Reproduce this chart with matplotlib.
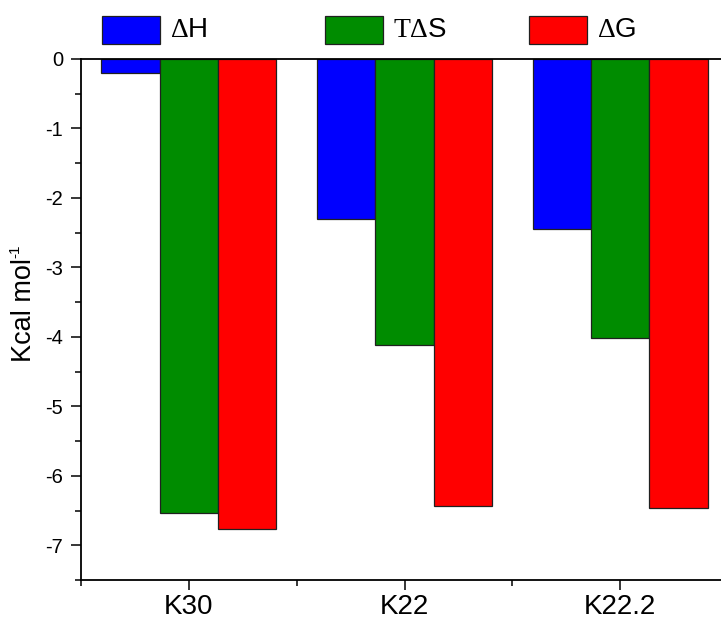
import matplotlib
matplotlib.use("Agg")
from matplotlib import pyplot as plt
from matplotlib.patches import Rectangle
from matplotlib.ticker import MultipleLocator, FixedLocator
import numpy as np

plt.rcParams['font.family'] = ['Liberation Sans', 'DejaVu Sans']
plt.rcParams['axes.unicode_minus'] = False
plt.rcParams['mathtext.fontset'] = 'custom'
plt.rcParams['mathtext.rm'] = 'Liberation Serif'

samples = ['K30', 'K22', 'K22.2']
dH = [-0.20, -2.31, -2.45]
TdS = [-6.54, -4.11, -4.01]
dG = [-6.76, -6.44, -6.47]
labels = [r'$\mathrm{\Delta}$H', r'$\mathrm{T\Delta}$S', r'$\mathrm{\Delta}$G']
colors = ['#0000ff', '#008c00', '#ff0000']

W, H = 721, 623
fig = plt.figure(figsize=(W / 100, H / 100), dpi=100)
ax = fig.add_axes([81 / W, 1 - 580 / H, (728 - 81) / W, (580 - 59) / H])

x = np.arange(len(samples))
bw = 0.27
for i, (vals, c) in enumerate(zip([dH, TdS, dG], colors)):
    ax.bar(x + (i - 1) * bw, vals, bw, color=c, edgecolor='#202020', linewidth=0.9)

ax.set_xlim(-0.5, 2.5)
ax.set_ylim(-7.5, 0)
ax.set_xticks(x)
ax.set_xticklabels(samples, fontsize=20)
ax.xaxis.set_minor_locator(FixedLocator([-0.5, 0.5, 1.5, 2.5]))
ax.yaxis.set_minor_locator(MultipleLocator(0.5))
ax.set_yticks(np.arange(-7, 1, 1))
ax.tick_params(which='major', direction='out', length=7, width=1.1, labelsize=14.5, pad=6)
ax.tick_params(which='minor', direction='out', length=4, width=1.1)
ax.tick_params(axis='x', labelsize=20, pad=3)
ax.tick_params(top=False, right=False, which='both')
ax.spines['right'].set_visible(False)
for s in ['left', 'bottom', 'top']:
    ax.spines[s].set_linewidth(1.3)

# y label with a hyphen superscript (mathtext would turn it into a minus)
fig.text(24 / W, 1 - 362 / H, 'Kcal mol', fontsize=19.5, rotation=90,
         ha='center', va='bottom')
fig.text(15.5 / W, 1 - 258 / H, '-1', fontsize=11, rotation=90,
         ha='center', va='bottom')

# legend drawn as boxes + text along the top
hx = [102, 325, 529]
for px, lab, c in zip(hx, labels, colors):
    fig.add_artist(Rectangle((px / W, 1 - 44 / H), 58 / W, 28 / H,
                             transform=fig.transFigure, facecolor=c,
                             edgecolor='#202020', linewidth=0.9))
    fig.text((px + 68) / W, 1 - 30 / H, lab, fontsize=20, va='center', ha='left')

fig.savefig('out.png', dpi=100)
